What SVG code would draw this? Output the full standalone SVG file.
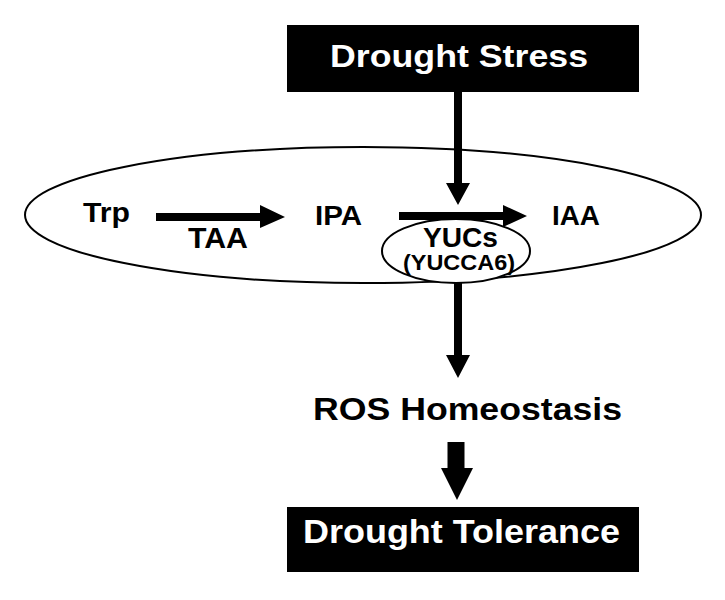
<svg xmlns="http://www.w3.org/2000/svg" width="725" height="600" viewBox="0 0 725 600">
<style>
.t{font-family:"Liberation Sans",Arial,sans-serif;font-weight:bold;fill:#000;text-anchor:start}
.w{fill:#fff}
.box{fill:#000}
.ell{fill:#fff;stroke:#000;stroke-width:2}
.arr{fill:#000;stroke:none}
</style>
<rect width="725" height="600" fill="#fff"/>
<g id="cell">
<ellipse class="ell" cx="363" cy="215" rx="338" ry="68"/>
</g>
<g id="drought-stress">
<rect class="box" x="287" y="25" width="352" height="67"/>
<text class="t w" x="330" y="67" font-size="31" textLength="258" lengthAdjust="spacingAndGlyphs">Drought Stress</text>
</g>
<g id="trp"><text class="t" x="83" y="222" font-size="27" textLength="47" lengthAdjust="spacingAndGlyphs">Trp</text></g>
<g id="ipa"><text class="t" x="315" y="225" font-size="27" textLength="47" lengthAdjust="spacingAndGlyphs">IPA</text></g>
<g id="iaa"><text class="t" x="552" y="225" font-size="27" textLength="48" lengthAdjust="spacingAndGlyphs">IAA</text></g>
<g id="yucs">
<ellipse class="ell" cx="456" cy="251" rx="74" ry="32"/>
<text class="t" x="423" y="247" font-size="27" textLength="75" lengthAdjust="spacingAndGlyphs">YUCs</text>
<text class="t" x="403" y="270" font-size="22" textLength="112" lengthAdjust="spacingAndGlyphs">(YUCCA6)</text>
</g>
<g id="ros"><text class="t" x="313" y="420" font-size="32" textLength="309" lengthAdjust="spacingAndGlyphs">ROS Homeostasis</text></g>
<g id="drought-tolerance">
<rect class="box" x="287" y="507" width="352" height="65"/>
<text class="t w" x="303" y="543" font-size="33" textLength="317" lengthAdjust="spacingAndGlyphs">Drought Tolerance</text>
</g>
<g id="connectors">
<path class="arr" d="M454,92 H462 V183 H470 L458,205 L446,183 H454 Z"/>
<path class="arr" d="M156,213 H260 V205 L285,217 L260,228 V221 H156 Z"/>
<text class="t" x="188" y="248" font-size="29" textLength="60" lengthAdjust="spacingAndGlyphs">TAA</text>
<path class="arr" d="M399,212 H503 V205 L527,216 L503,227 V220 H399 Z"/>
<path class="arr" d="M454,283 H462 V355 H470 L458,378 L446,355 H454 Z"/>
<path class="arr" d="M447.5,442 H464.5 V468 H473 L457,500 L441,468 H447.5 Z"/>
</g>
</svg>
